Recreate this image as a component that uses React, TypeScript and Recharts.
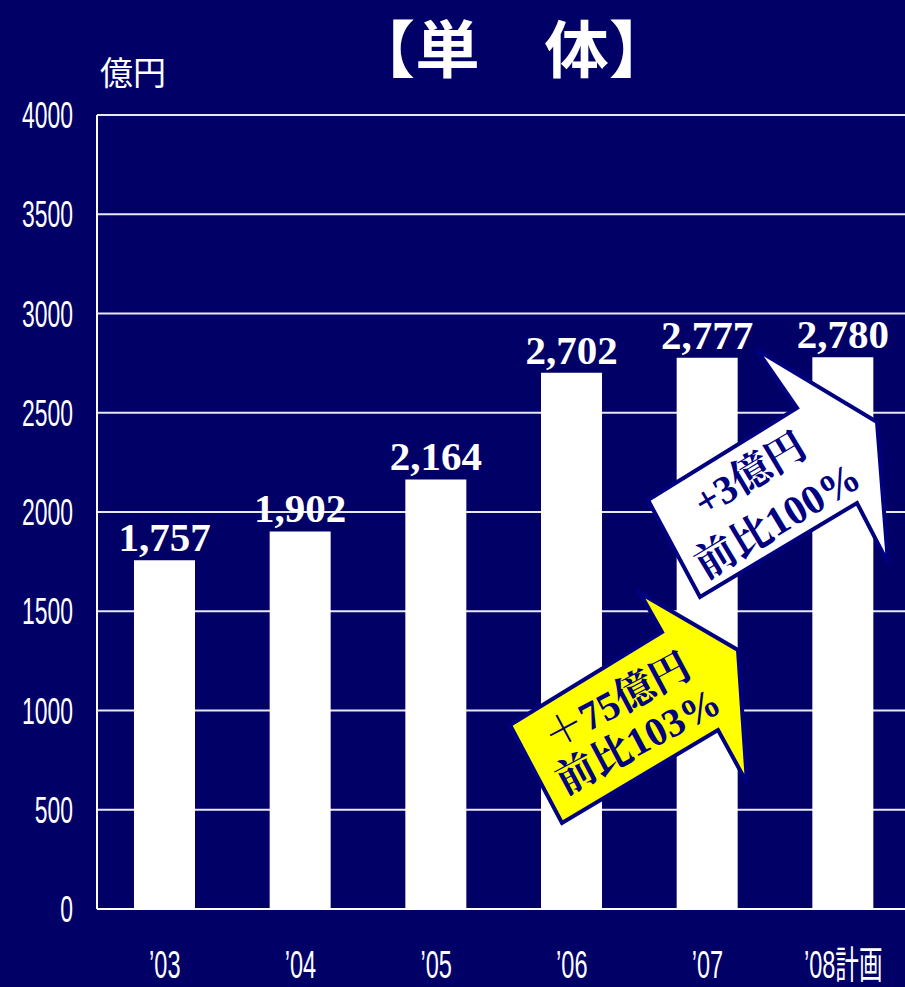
import React from 'react';
import { BarChart, Bar, XAxis, YAxis, CartesianGrid, LabelList } from 'recharts';

// 単体 売上 (億円)
const years = ['’03', '’04', '’05', '’06', '’07', '’08計画'];
const sales = [1757, 1902, 2164, 2702, 2777, 2780];
const yTicks = [0, 500, 1000, 1500, 2000, 2500, 3000, 3500, 4000];

const BG = '#000066';
const NAVY = '#000080';
const NARROW = 'Liberation Sans, Arial, sans-serif';
const SERIF = 'Liberation Serif, "Noto Serif CJK JP", "Noto Sans CJK JP", serif';

const data = years.map((year, i) => ({ year, value: sales[i] }));

const YTick = (props: any) => {
  const { x, y, payload } = props;
  return (
    <text
      transform={`translate(${x},${y}) scale(0.62,1)`}
      textAnchor="end"
      dy={13}
      fill="#fff"
      fontSize={37}
      fontFamily={NARROW}
    >
      {payload.value}
    </text>
  );
};

const XTick = (props: any) => {
  const { x, y, payload } = props;
  return (
    <text
      transform={`translate(${x},${y}) scale(0.62,1)`}
      textAnchor="middle"
      dy={69}
      fill="#fff"
      fontSize={38}
      fontFamily={`${NARROW}, "Noto Sans CJK JP"`}
    >
      {payload.value}
    </text>
  );
};

// title, unit and the two arrow callouts, drawn on top of the bars
const Overlay = () => (
  <svg width={905} height={987} style={{ position: 'absolute', left: 0, top: 0, pointerEvents: 'none' }}>
    <text
      transform="translate(512,73) scale(1.04,1)"
      textAnchor="middle"
      fill="#fff"
      fontSize={62}
      fontWeight="bold"
      fontFamily='"Noto Sans CJK JP", sans-serif'
    >
      【単　体】
    </text>
    <text x={100} y={85} fill="#fff" fontSize={33} fontFamily='"Noto Sans CJK JP", sans-serif'>
      億円
    </text>

    {/* 前年比 '07 */}
    <polygon
      points="510,725 662,632 640,593 738,650 747,783 718,730 562,823"
      fill="#ffff00"
      stroke={NAVY}
      strokeWidth={4}
    />
    <g transform="translate(628,722) rotate(-28)" fill={NAVY} fontWeight="bold" fontFamily={SERIF} textAnchor="middle">
      <text x={0} y={-10} fontSize={40}>＋75億円</text>
      <text x={0} y={35} fontSize={40}>前比103%</text>
    </g>

    {/* 前年比 '08計画 */}
    <polygon
      points="648,500 797,408 757,350 877,422 888,563 857,503 700,597"
      fill="#ffffff"
      stroke={NAVY}
      strokeWidth={4}
    />
    <g transform="translate(764,498) rotate(-31)" fill={NAVY} fontWeight="bold" fontFamily={SERIF} textAnchor="middle">
      <text x={0} y={-14} fontSize={40}>+3億円</text>
      <text x={0} y={40} fontSize={41}>前比100%</text>
    </g>
  </svg>
);

export default function App() {
  return (
    <div
      style={{
        position: 'absolute',
        left: 0,
        top: 0,
        width: 905,
        height: 987,
        overflow: 'hidden',
        background: BG,
      }}
    >
      <BarChart
        width={912}
        height={987}
        data={data}
        margin={{ top: 115, right: 1, left: 0, bottom: 0 }}
        barSize={61}
      >
        <CartesianGrid vertical={false} stroke="#e8e8f8" strokeWidth={2} />
        <XAxis
          dataKey="year"
          height={78}
          axisLine={{ stroke: '#fff', strokeWidth: 2 }}
          tickLine={false}
          tickSize={0}
          tickMargin={0}
          interval={0}
          tick={<XTick />}
        />
        <YAxis
          width={97}
          domain={[0, 4000]}
          ticks={yTicks}
          axisLine={{ stroke: '#fff', strokeWidth: 2 }}
          tickLine={false}
          tickSize={0}
          tickMargin={24}
          interval={0}
          tick={<YTick />}
        />
        <Bar dataKey="value" fill="#ffffff" isAnimationActive={false}>
          <LabelList
            dataKey="value"
            position="top"
            offset={9}
            formatter={(v: any) => Number(v).toLocaleString('en-US')}
            fill="#ffffff"
            fontSize={41}
            fontWeight="bold"
            fontFamily={SERIF}
          />
        </Bar>
      </BarChart>
      <Overlay />
    </div>
  );
}
